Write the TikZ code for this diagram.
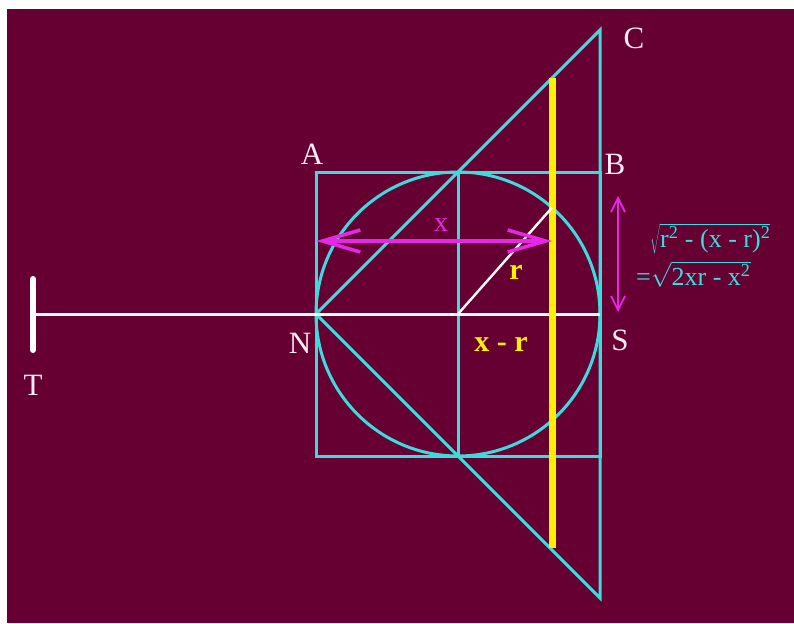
\documentclass[tikz,border=0pt]{standalone}
\usepackage{fontspec}
\setmainfont{Liberation Serif}
\usetikzlibrary{arrows.meta}
\definecolor{bg}{RGB}{102,0,51}
\definecolor{cy}{RGB}{60,220,220}
\definecolor{mag}{RGB}{230,40,230}
\definecolor{yel}{RGB}{255,240,0}
\definecolor{lab}{RGB}{255,235,245}
\begin{document}
\begin{tikzpicture}[x=1pt,y=-1pt,
  geo/.style={draw=cy,line width=3pt},
  wline/.style={draw=white,line width=3pt},
  lbl/.style={text=lab,font=\fontsize{31}{33}\selectfont,inner sep=0pt},
  ylbl/.style={text=yel,font=\fontsize{30}{32}\selectfont\bfseries,inner sep=0pt},
  mlbl/.style={text=mag,font=\fontsize{28}{30}\selectfont,inner sep=0pt},
  flbl/.style={text=cy,font=\fontsize{26}{28}\selectfont,inner sep=0pt},
  barb/.tip={Straight Barb[length=38pt,width=22pt]},
  sbarb/.tip={Straight Barb[length=14pt,width=14pt]}]
\useasboundingbox (0,0) rectangle (794,623);
\fill[white] (0,0) rectangle (794,623);
\fill[bg] (7,9) rectangle (794,623);
% points
\coordinate (N) at (316,314);
\coordinate (S) at (600,314);
\coordinate (O) at (458,314);
\coordinate (A) at (316,172);
\coordinate (D) at (600,456);
\coordinate (C) at (600,30);
\coordinate (F) at (600,598);
\coordinate (Ot) at (458,172);
\coordinate (Ob) at (458,456);
\coordinate (Yt) at (552,78);
\coordinate (Yb) at (552,548);
\coordinate (P) at (552,207.6);
\coordinate (T) at (33,314);
\coordinate (Tt) at (33,279);
\coordinate (Tb) at (33,350);
\coordinate (Xl) at (316,241);
\coordinate (Xr) at (552,241);
\coordinate (Vt) at (618,196);
\coordinate (Vb) at (618,312);
% figure
\draw[geo] (O) circle[radius=142];
\draw[geo] (A) rectangle (D);
\draw[geo] (N) -- (C) -- (F) -- cycle;
\draw[geo] (Ot) -- (Ob);
\draw[wline] (T) -- (S);
\draw[white,line width=6pt,line cap=round] (Tt) -- (Tb);
\draw[yel,line width=7pt] (Yt) -- (Yb);
\draw[white,line width=2.4pt] (O) -- (P);
\draw[mag,line width=3.5pt,{barb}-{barb}] (Xl) -- (Xr);
\draw[mag,line width=1.8pt,{sbarb}-{sbarb}] (Vt) -- (Vb);
% labels
\node[lbl] (lA) at (312,154) {A};
\node[lbl] (lB) at (615,164) {B};
\node[lbl] (lC) at (634,38) {C};
\node[lbl] (lN) at (300,343) {N};
\node[lbl] (lS) at (620,340) {S};
\node[lbl] (lT) at (33,385) {T};
\node[mlbl] (lx) at (441,225) {x};
\node[ylbl] (lr) at (516,272) {r};
\node[ylbl] (lxr) at (501,344) {x - r};
\node[flbl,anchor=west] (f1) at (650,239) {$\sqrt{\hbox{r\textsuperscript{2} - (x - r)\textsuperscript{2}}}$};
\node[flbl,anchor=west] (f2) at (636,274) {=$\sqrt{\hbox{2xr - x\textsuperscript{2}}}$};
\end{tikzpicture}
\end{document}
